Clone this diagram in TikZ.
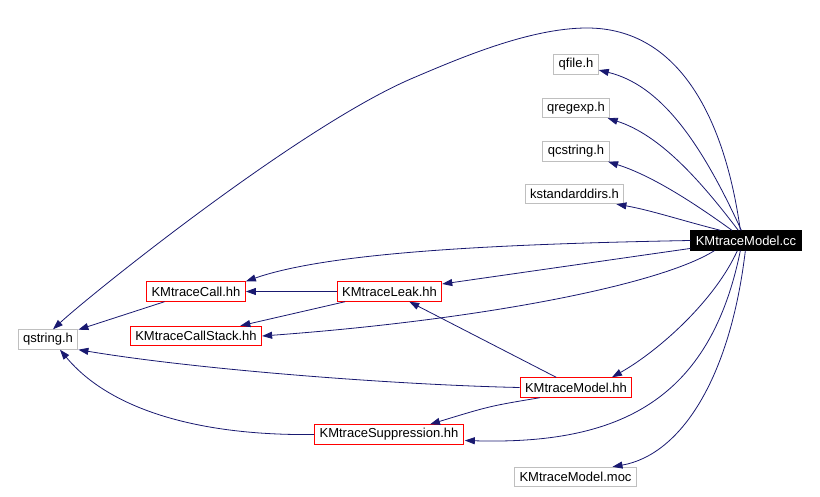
\documentclass[tikz,border=0pt]{standalone}
\usepackage{fontspec}
\setmainfont{Liberation Sans}
\usepackage{xcolor}
\usepackage{tikz}
\usetikzlibrary{arrows.meta,positioning,calc}
\definecolor{doxNavy}{RGB}{25,25,112}
\definecolor{doxGray}{RGB}{191,191,191}
\definecolor{doxRed}{RGB}{255,0,0}

\begin{document}
\begin{tikzpicture}[
    x=1pt, y=-1pt,
    boxG/.style={rectangle, draw=doxGray, line width=0.9pt, minimum height=19.5pt, inner xsep=5pt, inner ysep=0pt, font=\fontsize{13}{15}\selectfont},
    boxR/.style={boxG, draw=doxRed},
    boxK/.style={boxG, draw=black, fill=black, text=white},
    arrow/.style={-{Triangle[length=10pt,width=7pt]}, line width=0.8pt, draw=doxNavy}
]
\useasboundingbox (0,0) rectangle (820,497);
\node[boxG] (qfile) at (576,64.5) {qfile.h};
\node[boxG] (qregexp) at (576,108) {qregexp.h};
\node[boxG] (qcstring) at (576,151.5) {qcstring.h};
\node[boxG] (kstd) at (574.5,194) {kstandarddirs.h};
\node[boxK] (cc) at (746,240.5) {KMtraceModel.cc};
\node[boxR] (call) at (196,291.5) {KMtraceCall.hh};
\node[boxR] (leak) at (389.5,291.5) {KMtraceLeak.hh};
\node[boxR] (stack) at (196,336) {KMtraceCallStack.hh};
\node[boxG] (qstr) at (48,339.5) {qstring.h};
\node[boxR] (modelhh) at (576,387.5) {KMtraceModel.hh};
\node[boxR] (supp) at (389,434.5) {KMtraceSuppression.hh};
\node[boxG] (moc) at (575.5,477) {KMtraceModel.moc};
\draw[arrow] ($(cc.north west)+(50,0)$) .. controls (725,120) and (680,28) .. (587,28)
    .. controls (530,28) and (460,58) .. (413,78)
    .. controls (300,126) and (90,295) .. ($(qstr.north)+(5,0)$);
\draw[arrow] (cc) .. controls (700,140) and (660,85) .. (qfile);
\draw[arrow] (cc) .. controls (700,180) and (660,135) .. (qregexp);
\draw[arrow] (cc) .. controls (690,200) and (650,175) .. (qcstring);
\draw[arrow] ($(cc.north west)+(30,0)$) .. controls (680,220) and (650,210) .. ($(kstd.south east)+(-8,0)$);
\draw[arrow] (cc.west) .. controls (500,244) and (330,252) .. (call.north east);
\draw[arrow] (cc) -- (leak);
\draw[arrow] ($(cc.south west)+(24,0)$) .. controls (660,285) and (480,320) .. (stack.east);
\draw[arrow] ($(cc.south west)+(47,0)$) .. controls (715,300) and (660,350) .. ($(modelhh.north)+(36,0)$);
\draw[arrow] ($(cc.south west)+(50,0)$) .. controls (710,400) and (620,445) .. ($(supp.east)+(1,6)$);
\draw[arrow] ($(cc.south west)+(55,0)$) .. controls (730,380) and (680,455) .. ($(moc.north)+(37,0)$);
\draw[arrow] (leak) -- (call);
\draw[arrow] (leak) -- (stack);
\draw[arrow] (call) -- (qstr);
\draw[arrow] (modelhh.west) .. controls (400,385) and (200,370) .. (qstr.south east);
\draw[arrow] (modelhh) -- (leak);
\draw[arrow] ($(modelhh.south)+(-36,0)$) .. controls (490,406) .. ($(supp.north)+(41,0)$);
\draw[arrow] (supp.west) .. controls (200,436) and (110,410) .. ($(qstr.south)+(12,0)$);
\end{tikzpicture}
\end{document}
